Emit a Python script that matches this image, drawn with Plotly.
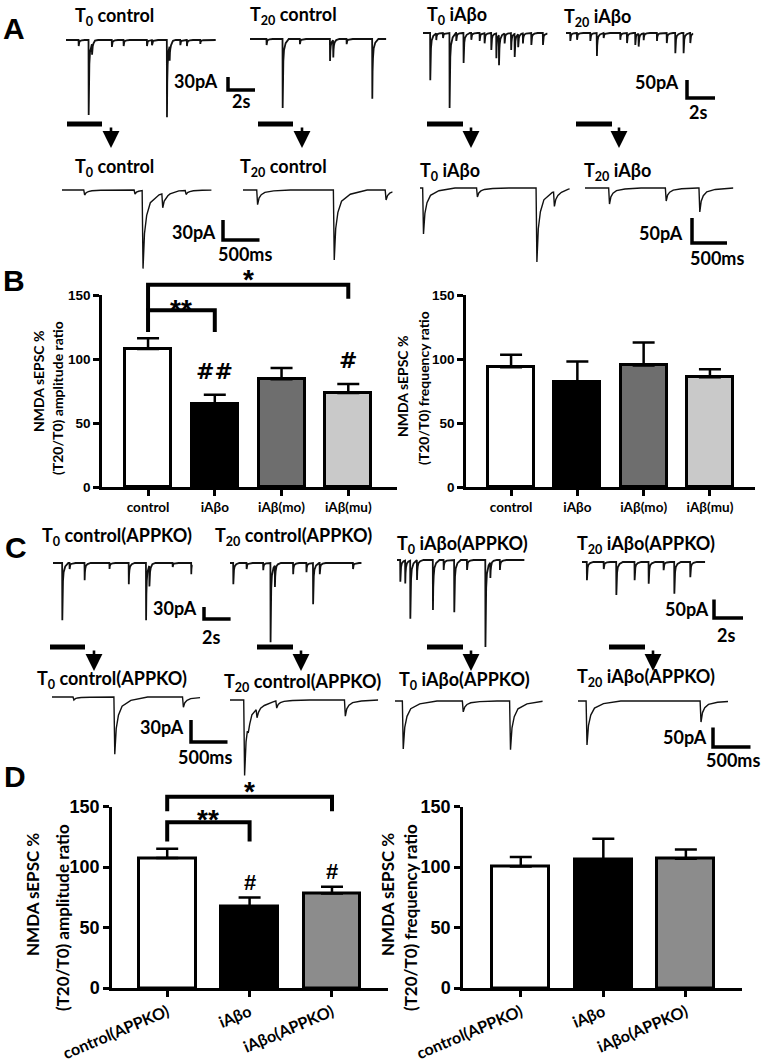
import numpy as np
import plotly.graph_objects as go

W, H = 766, 1062

# ---------------- bar chart data (B, D) ----------------
b_labels = ["control", "iAβo", "iAβ(mo)", "iAβ(mu)"]
b_colors = ["#ffffff", "#000000", "#6e6e6e", "#c9c9c9"]
b_amp = [107.8, 64.5, 84.2, 73.5]
b_amp_err = [8.5, 7.5, 8.8, 7.0]
b_freq = [93.5, 82.4, 95.0, 85.8]
b_freq_err = [9.8, 15.6, 17.8, 6.2]

d_labels = ["control(APPKO)", "iAβo", "iAβo(APPKO)"]
d_colors = ["#ffffff", "#000000", "#8c8c8c"]
d_amp = [107.4, 67.1, 78.1]
d_amp_err = [7.6, 7.7, 5.5]
d_freq = [100.5, 106.0, 106.8]
d_freq_err = [7.7, 17.3, 7.7]

# significance brackets: (bar from, bar to, height, left leg end, right leg end, text)
b_sig = [(0, 3, 158, 138, 147, "*"), (0, 1, 138, 121, 121, "**")]
b_hash = [(1, "##"), (3, "#")]
d_sig = [(0, 2, 158, 146, 146, "*"), (0, 1, 137, 121, 121, "**")]
d_hash = [(1, "#"), (2, "#")]

# ---------------- sEPSC traces: event peak times (s) and amplitudes (pA) ----------------
a_t0_ctl_t = [0.94, 1.68, 1.93, 3.4, 4.27, 6.0, 6.37, 7.48, 7.68, 8.47, 8.96, 9.95]
a_t0_ctl_pa = [14, 173, 25, 16, 14, 14, 12, 178, 34, 12, 14, 9]
a_t20_ctl_t = [1.23, 2.42, 3.7, 5.93, 6.17, 7.16, 9.06]
a_t20_ctl_pa = [14, 159, 12, 51, 40, 12, 138]
a_t0_abo_t = [0.52, 0.95, 1.43, 1.9, 2.38, 2.9, 3.45, 4.05, 4.4, 4.88, 5.24, 5.43,
              5.83, 6.3, 6.55, 6.8, 7.14, 7.74, 8.57]
a_t0_abo_pa = [131, 19, 14, 208, 22, 83, 19, 22, 28, 47, 69, 84, 28, 47, 64, 36, 28, 33, 33]
a_t20_abo_t = [0.31, 0.79, 1.74, 2.21, 2.69, 3.88, 4.36, 4.95, 5.19, 5.55, 6.5, 7.2,
               7.81, 8.4, 8.88]
a_t20_abo_pa = [22, 19, 22, 64, 14, 19, 28, 33, 36, 19, 22, 28, 56, 56, 28]

az_t0_ctl_t = [0.31, 1.0, 1.11, 1.38, 1.7]
az_t0_ctl_pa = [7.5, 6, 117, 21, 6]
az_t20_ctl_t = [0.2, 1.25, 1.96]
az_t20_ctl_pa = [22, 105, 15]
az_t0_abo_t = [0.05, 0.82, 1.67, 1.92]
az_t0_abo_pa = [92, 18, 148, 29]
az_t20_abo_t = [0.35, 1.16, 1.64]
az_t20_abo_pa = [32, 26, 48]

c_t0_ctl_t = [0.7, 1.25, 2.38, 4.25, 5.7, 7.0, 7.25, 9.0, 10.4]
c_t0_ctl_pa = [143, 15, 43, 15, 53, 143, 51, 10, 28]
c_t20_ctl_t = [0.25, 1.25, 2.5, 3.05, 3.38, 4.75, 5.75, 6.25, 6.75, 9.25]
c_t20_ctl_pa = [53, 15, 18, 198, 54, 28, 23, 103, 28, 15]
c_t0_abo_t = [0.23, 0.57, 0.92, 1.38, 2.48, 3.22, 3.95, 4.83, 6.1, 6.44, 7.1]
c_t0_abo_pa = [59, 62, 157, 54, 135, 27, 141, 27, 235, 42, 27]
c_t20_abo_t = [0.34, 1.5, 2.37, 3.63, 4.6, 5.63, 6.37, 7.47]
c_t20_abo_pa = [49, 19, 89, 49, 59, 22, 86, 41]

cz_t0_ctl_t = [0.3, 0.86, 1.8]
cz_t0_ctl_pa = [4, 78, 14]
cz_t20_ctl_t = [0.2, 0.25, 0.37, 0.64, 1.58]
cz_t20_ctl_pa = [103, 12, 12, 10, 22]
cz_t0_abo_t = [0.11, 0.91, 1.54]
cz_t0_abo_pa = [123, 28, 125]
cz_t20_abo_t = [0.12, 1.64]
cz_t20_abo_pa = [113, 54]

# event waveform (time from peak, fraction of amplitude)
kern_dt = [-0.012, 0.0, 0.02, 0.05, 0.1, 0.22, 0.45]
kern_fr = [0.0, 1.0, 0.55, 0.32, 0.16, 0.06, 0.0]

# groups of traces sharing a scale bar: px per s, px per pA, bar lengths, bar corner (px)
groups = {
    "A_sw_L": dict(pxs=13.5, pxa=13 / 30, bar=(2, 30), corner=(228, 90), lw=1.8),
    "A_sw_R": dict(pxs=14.0, pxa=18 / 50, bar=(2, 50), corner=(687, 98), lw=1.8),
    "A_zm_L": dict(pxs=73.0, pxa=20 / 30, bar=(0.5, 30), corner=(223, 240), lw=1.4),
    "A_zm_R": dict(pxs=70.0, pxa=25 / 50, bar=(0.5, 50), corner=(692, 243), lw=1.4),
    "C_sw_L": dict(pxs=13.3, pxa=12 / 30, bar=(2, 30), corner=(204, 619), lw=1.8),
    "C_sw_R": dict(pxs=14.5, pxa=18.5 / 50, bar=(2, 50), corner=(714, 618), lw=1.8),
    "C_zm_L": dict(pxs=73.0, pxa=22 / 30, bar=(0.5, 30), corner=(191, 742), lw=1.4),
    "C_zm_R": dict(pxs=75.0, pxa=19.5 / 50, bar=(0.5, 50), corner=(713, 747), lw=1.4),
}

# (group, duration s, times, amps, left px, baseline px)
traces = [
    ("A_sw_L", 11.1, a_t0_ctl_t, a_t0_ctl_pa, 66, 40),
    ("A_sw_L", 10.1, a_t20_ctl_t, a_t20_ctl_pa, 250, 39),
    ("A_sw_R", 8.9, a_t0_abo_t, a_t0_abo_pa, 423, 33),
    ("A_sw_R", 9.1, a_t20_abo_t, a_t20_abo_pa, 566, 33),
    ("A_zm_L", 2.05, az_t0_ctl_t, az_t0_ctl_pa, 62, 190),
    ("A_zm_L", 2.05, az_t20_ctl_t, az_t20_ctl_pa, 243, 190),
    ("A_zm_R", 2.14, az_t0_abo_t, az_t0_abo_pa, 420, 188),
    ("A_zm_R", 2.12, az_t20_abo_t, az_t20_abo_pa, 585, 188),
    ("C_sw_L", 10.5, c_t0_ctl_t, c_t0_ctl_pa, 53, 563),
    ("C_sw_L", 9.9, c_t20_ctl_t, c_t20_ctl_pa, 230, 563),
    ("C_sw_R", 8.8, c_t0_abo_t, c_t0_abo_pa, 397, 560),
    ("C_sw_R", 8.5, c_t20_abo_t, c_t20_abo_pa, 582, 562),
    ("C_zm_L", 2.03, cz_t0_ctl_t, cz_t0_ctl_pa, 52, 697),
    ("C_zm_L", 2.03, cz_t20_ctl_t, cz_t20_ctl_pa, 230, 700),
    ("C_zm_R", 1.97, cz_t0_abo_t, cz_t0_abo_pa, 395, 701),
    ("C_zm_R", 2.0, cz_t20_abo_t, cz_t20_abo_pa, 578, 701),
]

fig = go.Figure()
axes = {}
count = [0]


def new_axes():
    count[0] += 1
    n = count[0]
    sfx = "" if n == 1 else str(n)
    return "x" + sfx, "y" + sfx, "xaxis" + sfx, "yaxis" + sfx


def hidden(domain, rng):
    return dict(domain=domain, range=rng, visible=False, fixedrange=True, automargin=False)


def sweep(dur, times, amps):
    ts = [0.0, dur]
    for t in times:
        ts += [t + d for d in kern_dt]
    ts = np.array(sorted(set(ts)))
    ts = ts[(ts >= 0) & (ts <= dur)]
    ys = np.zeros_like(ts)
    for t, a in zip(times, amps):
        ys -= a * np.interp(ts - t, kern_dt, kern_fr, left=0, right=0)
    return ts, ys


# ---------------- bar charts ----------------
def bar_panel(labels, colors, vals, errs, x_px, zero_px, ppu, xrng, big, sig=None, marks=None):
    xa, ya, xk, yk = new_axes()
    fs_tick = 18 if big else 13.5
    fs_cat = 16 if big else 13.5
    xs = list(range(len(labels)))
    fig.add_trace(go.Bar(
        x=xs, y=vals, width=0.69, xaxis=xa, yaxis=ya,
        marker=dict(color=colors, line=dict(color="black", width=3)),
        error_y=dict(type="data", array=errs, arrayminus=[0] * len(errs), symmetric=False,
                     color="black", thickness=2.5, width=11),
    ))
    axes[xk] = dict(
        domain=[x_px[0] / W, x_px[1] / W], range=xrng, anchor=ya, automargin=False,
        tickvals=xs, ticktext=labels, showline=True, linecolor="black", linewidth=2.5,
        ticks="outside", ticklen=6, tickwidth=2.5, tickcolor="black", showgrid=False,
        zeroline=False, fixedrange=True, tickangle=-23 if big else 0,
        tickfont=dict(family="Lato", size=fs_cat, color="black", weight="bold"),
    )
    axes[yk] = dict(
        domain=[1 - zero_px / H, 1 - (zero_px - 150 * ppu) / H], range=[0, 150], anchor=xa,
        tickvals=[0, 50, 100, 150], showline=True, linecolor="black", linewidth=2.5,
        ticks="outside", ticklen=6, tickwidth=2.5, tickcolor="black", showgrid=False,
        zeroline=False, fixedrange=True, automargin=False,
        tickfont=dict(family="Liberation Sans", size=fs_tick, color="black", weight="bold"),
    )
    if sig is None:
        return
    # overlay axes for brackets, extending above the plot top
    xa2, ya2, xk2, yk2 = new_axes()
    top = 178
    axes[xk2] = hidden([x_px[0] / W, x_px[1] / W], xrng)
    axes[yk2] = hidden([1 - zero_px / H, 1 - (zero_px - top * ppu) / H], [0, top])
    star_off = [12, 8] if not big else [12, 10]
    for k, (i, j, h, lb, rb, s) in enumerate(sig):
        fig.add_trace(go.Scatter(x=[i, i, j, j], y=[lb, h, h, rb], mode="lines", xaxis=xa2,
                                 yaxis=ya2, line=dict(color="black", width=4),
                                 hoverinfo="skip"))
        fig.add_annotation(x=(i + j) / 2, y=h, xref=xa2, yref=ya2, text=s, showarrow=False,
                           yanchor="middle", yshift=star_off[k] - 7,
                           font=dict(family="Liberation Sans", size=28, color="black",
                                     weight="bold"))
    for i, s in marks:
        fs = 22
        gap = 14 if not big else 6
        fig.add_annotation(x=i, y=vals[i] + errs[i], xref=xa2, yref=ya2, text=s,
                           showarrow=False, yanchor="bottom", yshift=gap - 0.25 * fs,
                           font=dict(family="DejaVu Sans" if not big else "Liberation Sans",
                                     size=fs, color="black", weight="bold"))


bar_panel(b_labels, b_colors, b_amp, b_amp_err, (102, 397), 487, 1.28, [-0.69, 3.73], False,
          b_sig, b_hash)
bar_panel(b_labels, b_colors, b_freq, b_freq_err, (466, 755), 487, 1.28, [-0.68, 3.68], False)
bar_panel(d_labels, d_colors, d_amp, d_amp_err, (112, 388), 988, 1.21, [-0.67, 2.68], True,
          d_sig, d_hash)
bar_panel(d_labels, d_colors, d_freq, d_freq_err, (463, 742), 988, 1.21, [-0.70, 2.68], True)

# ---------------- traces ----------------
for g, dur, times, amps, x0, base in traces:
    gp = groups[g]
    xa, ya, xk, yk = new_axes()
    ts, ys = sweep(dur, times, amps)
    depth = max(amps) * gp["pxa"] + 8
    axes[xk] = hidden([x0 / W, (x0 + dur * gp["pxs"]) / W], [0, dur])
    axes[yk] = hidden([1 - (base + depth) / H, 1 - (base - 8) / H],
                      [-depth / gp["pxa"], 8 / gp["pxa"]])
    fig.add_trace(go.Scatter(x=ts, y=ys, mode="lines", xaxis=xa, yaxis=ya,
                             line=dict(color="#111111", width=gp["lw"]), hoverinfo="skip"))

# scale bars
for g, gp in groups.items():
    tl, al = gp["bar"]
    cx, cy = gp["corner"]
    pad = 4
    xa, ya, xk, yk = new_axes()
    axes[xk] = hidden([(cx - pad) / W, (cx + tl * gp["pxs"] + pad) / W],
                      [-pad / gp["pxs"], tl + pad / gp["pxs"]])
    axes[yk] = hidden([1 - (cy + pad) / H, 1 - (cy - al * gp["pxa"] - pad) / H],
                      [-pad / gp["pxa"], al + pad / gp["pxa"]])
    fig.add_trace(go.Scatter(x=[0, 0, tl], y=[al, 0, 0], mode="lines", xaxis=xa, yaxis=ya,
                             line=dict(color="black", width=3.5), hoverinfo="skip"))

fig.update_layout(**axes)


# ---------------- text ----------------
def label(s, x, y, size=18, family="Lato", xanchor="left"):
    fig.add_annotation(x=x / W, y=1 - y / H, xref="paper", yref="paper", text=s,
                       showarrow=False, xanchor=xanchor, yanchor="middle",
                       font=dict(family=family, size=size, color="black", weight="bold"))


trace_labels = [
    ("T<sub>0</sub> control", 73, 16), ("T<sub>20</sub> control", 248, 15),
    ("T<sub>0</sub> iAβo", 425, 15), ("T<sub>20</sub> iAβo", 562, 17),
    ("T<sub>0</sub> control", 73, 168), ("T<sub>20</sub> control", 238, 168),
    ("T<sub>0</sub> iAβo", 418, 171), ("T<sub>20</sub> iAβo", 582, 171),
    ("T<sub>0</sub> control(APPKO)", 40, 536), ("T<sub>20</sub> control(APPKO)", 213, 536),
    ("T<sub>0</sub> iAβo(APPKO)", 395, 544), ("T<sub>20</sub> iAβo(APPKO)", 575, 544),
    ("T<sub>0</sub> control(APPKO)", 35, 679), ("T<sub>20</sub> control(APPKO)", 222, 682),
    ("T<sub>0</sub> iAβo(APPKO)", 397, 680), ("T<sub>20</sub> iAβo(APPKO)", 575, 677),
]
for s, x, y in trace_labels:
    label(s, x, y)

scale_labels = [
    ("30pA", 220, 81, "right"), ("2s", 241, 101, "center"),
    ("50pA", 681, 82, "right"), ("2s", 698, 112, "center"),
    ("30pA", 218, 232, "right"), ("500ms", 245, 254, "center"),
    ("50pA", 685, 233, "right"), ("500ms", 717, 258, "center"),
    ("30pA", 199, 608, "right"), ("2s", 211, 637, "center"),
    ("50pA", 711, 609, "right"), ("2s", 726, 635, "center"),
    ("30pA", 186, 727, "right"), ("500ms", 205, 757, "center"),
    ("50pA", 709, 737, "right"), ("500ms", 762, 760, "right"),
]
for s, x, y, anc in scale_labels:
    label(s, x, y, xanchor=anc)

for s, x, y in [("A", 14, 28), ("B", 14, 280), ("C", 16, 548), ("D", 15, 776)]:
    label(s, x, y, size=30, family="Liberation Sans", xanchor="center")

# y-axis titles
ytitles = [
    ("NMDA sEPSC %", 38, 381, 14), ("(T20/T0) amplitude ratio", 57, 398, 14),
    ("NMDA sEPSC %", 402, 386, 14), ("(T20/T0) frequency ratio", 423, 388, 14),
    ("NMDA sEPSC %", 32, 895, 17), ("(T20/T0) amplitude ratio", 62, 918, 17),
    ("NMDA sEPSC %", 387, 895, 17), ("(T20/T0) frequency ratio", 410, 918, 17),
]
for s, x, y, fs in ytitles:
    fig.add_annotation(x=x / W, y=1 - y / H, xref="paper", yref="paper", text=s,
                       showarrow=False, textangle=-90, xanchor="center", yanchor="middle",
                       font=dict(family="Lato", size=fs, color="black", weight="bold"))

# bars with arrows marking the expanded segment
marker_bars = [(67, 102, 111, 124), (258, 293, 302, 124), (427, 463, 471, 124),
               (576, 612, 619, 124), (50, 85, 94, 647), (257, 293, 301, 647),
               (427, 463, 471, 647), (609, 645, 653, 647)]
for bx0, bx1, ax_, by in marker_bars:
    fig.add_shape(type="line", xref="paper", yref="paper", x0=bx0 / W, x1=bx1 / W,
                  y0=1 - by / H, y1=1 - by / H, line=dict(color="black", width=5))
    fig.add_annotation(x=ax_ / W, y=1 - (by + 24) / H, xref="paper", yref="paper", text="",
                       showarrow=True, ax=0, ay=-22, arrowhead=2, arrowsize=1.3,
                       arrowwidth=2.6, arrowcolor="black")

fig.update_layout(width=W, height=H, margin=dict(l=0, r=0, t=0, b=0, autoexpand=False),
                  paper_bgcolor="white", plot_bgcolor="rgba(0,0,0,0)", showlegend=False,
                  bargap=0)

fig.write_html("out.html", config={"displayModeBar": False},
               post_script="document.body.style.margin='0';"
                           "document.body.style.overflow='hidden';")
